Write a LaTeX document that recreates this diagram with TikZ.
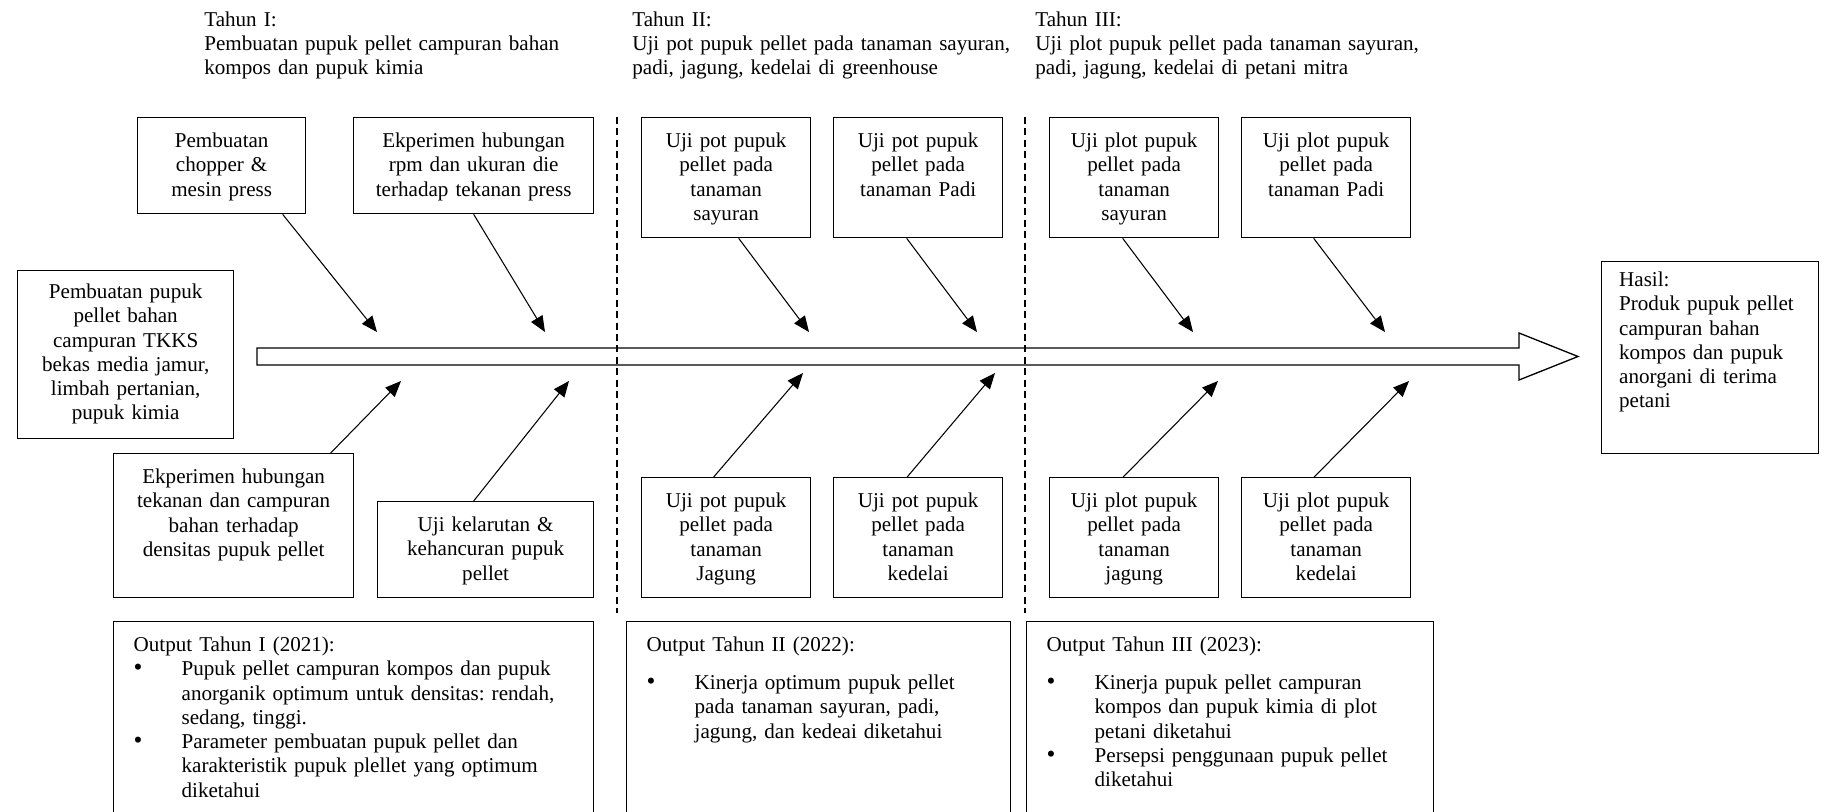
\documentclass[tikz,border=0pt]{standalone}
\usepackage{fontspec}
\setmainfont{Liberation Serif}
\usepackage{tikz}
\usetikzlibrary{arrows.meta, calc}

\newcommand{\outbullet}{\makebox[0.96cm][l]{\hspace{0.0cm}{\Large\textbullet}}}
\newcommand{\outindent}{\hspace*{0.96cm}}

\begin{document}
\fontsize{12pt}{13.8pt}\selectfont\frenchspacing
\begin{tikzpicture}[
    box/.style={draw, line width=0.75pt, inner xsep=0pt, inner ysep=0pt,
      text height=0.6cm, align=center, anchor=north west},
    outbox/.style={box, inner xsep=0.4cm, align=left, text depth=3.8cm},
    head/.style={anchor=base west, text width=8cm, align=left, inner sep=0pt},
    arw/.style={line width=0.6pt, -{Triangle[length=9pt, width=7.5pt]}},
    sep/.style={line width=0.6pt, dash pattern=on 4pt off 2.5pt},
    spine/.style={draw, line width=0.75pt, line join=miter}
  ]
  % Canvas
  \fill[white, use as bounding box] (0,0) rectangle (36.44,-16.22);
  \clip (0,0) rectangle (36.44,-16.22);
  % Year headings
  \node[head] (th1) at (4.08,-0.52) {Tahun I:\\Pembuatan pupuk pellet campuran bahan\\kompos dan pupuk kimia};
  \node[head] (th2) at (12.64,-0.52) {Tahun II:\\Uji pot pupuk pellet pada tanaman sayuran,\\padi, jagung, kedelai di greenhouse};
  \node[head] (th3) at (20.70,-0.52) {Tahun III:\\Uji plot pupuk pellet pada tanaman sayuran,\\padi, jagung, kedelai di petani mitra};
  % Upper boxes
  \node[box, text width=3.36cm, text depth=1.32cm] (chop) at (2.74,-2.34) {Pembuatan\\chopper \&\\mesin press};
  \node[box, text width=4.80cm, text depth=1.32cm] (rpm) at (7.06,-2.34) {Ekperimen hubungan\\rpm dan ukuran die\\terhadap tekanan press};
  \node[box, text width=3.38cm, text depth=1.80cm] (potsay) at (12.82,-2.34) {Uji pot pupuk\\pellet pada\\tanaman\\sayuran};
  \node[box, text width=3.38cm, text depth=1.80cm] (potpadi) at (16.66,-2.34) {Uji pot pupuk\\pellet pada\\tanaman Padi};
  \node[box, text width=3.38cm, text depth=1.80cm] (plotsay) at (20.98,-2.34) {Uji plot pupuk\\pellet pada\\tanaman\\sayuran};
  \node[box, text width=3.38cm, text depth=1.80cm] (plotpadi) at (24.82,-2.34) {Uji plot pupuk\\pellet pada\\tanaman Padi};
  % Start and result
  \node[box, text width=4.32cm, text height=0.56cm, text depth=2.80cm] (bahan) at (0.34,-5.40) {Pembuatan pupuk\\pellet bahan\\campuran TKKS\\bekas media jamur,\\limbah pertanian,\\pupuk kimia};
  \node[box, align=left, inner xsep=0.35cm, text width=3.64cm, text height=0.5cm, text depth=3.34cm] (hasil) at (32.02,-5.22) {Hasil:\\Produk pupuk pellet\\campuran bahan\\kompos dan pupuk\\anorgani di terima\\petani};
  % Lower boxes
  \node[box, text width=4.80cm, text depth=2.28cm] (tekan) at (2.26,-9.06) {Ekperimen hubungan\\tekanan dan campuran\\bahan terhadap\\densitas pupuk pellet};
  \node[box, text width=4.32cm, text depth=1.32cm] (larut) at (7.54,-10.02) {Uji kelarutan \&\\kehancuran pupuk\\pellet};
  \node[box, text width=3.38cm, text depth=1.80cm] (potjag) at (12.82,-9.54) {Uji pot pupuk\\pellet pada\\tanaman\\Jagung};
  \node[box, text width=3.38cm, text depth=1.80cm] (potked) at (16.66,-9.54) {Uji pot pupuk\\pellet pada\\tanaman\\kedelai};
  \node[box, text width=3.38cm, text depth=1.80cm] (plotjag) at (20.98,-9.54) {Uji plot pupuk\\pellet pada\\tanaman\\jagung};
  \node[box, text width=3.38cm, text depth=1.80cm] (plotked) at (24.82,-9.54) {Uji plot pupuk\\pellet pada\\tanaman\\kedelai};
  % Outputs
  \node[outbox, text width=8.80cm] (out1) at (2.26,-12.42) {Output Tahun I (2021):\\
    \outbullet Pupuk pellet campuran kompos dan pupuk\\
    \outindent anorganik optimum untuk densitas: rendah,\\
    \outindent sedang, tinggi.\\
    \outbullet Parameter pembuatan pupuk pellet dan\\
    \outindent karakteristik pupuk plellet yang optimum\\
    \outindent diketahui};
  \node[outbox, text width=6.88cm] (out2) at (12.52,-12.42) {Output Tahun II (2022):\\[7.8pt]
    \outbullet Kinerja optimum pupuk pellet\\
    \outindent pada tanaman sayuran, padi,\\
    \outindent jagung, dan kedeai diketahui};
  \node[outbox, text width=7.34cm] (out3) at (20.52,-12.42) {Output Tahun III (2023):\\[7.8pt]
    \outbullet Kinerja pupuk pellet campuran\\
    \outindent kompos dan pupuk kimia di plot\\
    \outindent petani diketahui\\
    \outbullet Persepsi penggunaan pupuk pellet\\
    \outindent diketahui};
  % Main arrow
  \draw[spine] (5.14,-6.96) -- (30.38,-6.96) -- (30.38,-6.66) -- (31.56,-7.13)
    -- (30.38,-7.60) -- (30.38,-7.30) -- (5.14,-7.30) -- cycle;
  % Year separators
  \draw[sep] (12.34,-2.34) -- (12.34,-12.26);
  \draw[sep] (20.50,-2.34) -- (20.50,-12.26);
  % Arrow ends near the spine
  \coordinate (t1) at (7.54,-6.64);
  \coordinate (t2) at (10.90,-6.64);
  \coordinate (t3) at (16.18,-6.64);
  \coordinate (t4) at (19.54,-6.64);
  \coordinate (t5) at (23.86,-6.64);
  \coordinate (t6) at (27.70,-6.64);
  \coordinate (t7) at (8.02,-7.62);
  \coordinate (t8) at (11.38,-7.62);
  \coordinate (t9) at (16.06,-7.46);
  \coordinate (t10) at (19.90,-7.46);
  \coordinate (t11) at (24.36,-7.62);
  \coordinate (t12) at (28.18,-7.62);
  % Upper arrows
  \draw[arw] ([xshift=1.22cm]chop.south) -- (t1);
  \draw[arw] (rpm.south) -- (t2);
  \draw[arw] ([xshift=0.25cm]potsay.south) -- (t3);
  \draw[arw] ([xshift=-0.23cm]potpadi.south) -- (t4);
  \draw[arw] ([xshift=-0.23cm]plotsay.south) -- (t5);
  \draw[arw] ([xshift=-0.25cm]plotpadi.south) -- (t6);
  % Lower arrows
  \draw[arw] ([xshift=1.94cm]tekan.north) -- (t7);
  \draw[arw] ([xshift=-0.24cm]larut.north) -- (t8);
  \draw[arw] ([xshift=-0.25cm]potjag.north) -- (t9);
  \draw[arw] ([xshift=-0.22cm]potked.north) -- (t10);
  \draw[arw] ([xshift=-0.22cm]plotjag.north) -- (t11);
  \draw[arw] ([xshift=-0.24cm]plotked.north) -- (t12);
\end{tikzpicture}
\end{document}
